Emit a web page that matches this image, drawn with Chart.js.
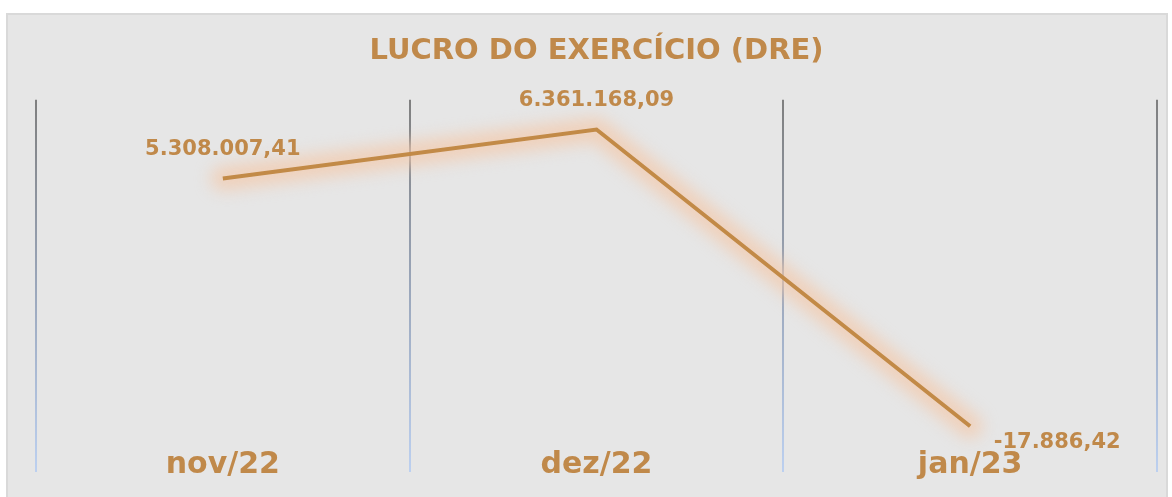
<!DOCTYPE html>
<html>
<head>
<meta charset="utf-8">
<script src="https://cdn.jsdelivr.net/npm/chart.js@4"></script>
<style>
  html, body { margin: 0; padding: 0; background: #ffffff; }
  #box {
    position: absolute; left: 6px; top: 13px; width: 1162px; height: 486px;
    background: #e6e6e6; border: 2px solid #d9d9d9; box-sizing: border-box;
  }
  #wrap { position: absolute; left: 0; top: 0; width: 1172px; height: 497px; }
</style>
</head>
<body>
<div id="box"></div>
<div id="wrap"><canvas id="lucroChart" width="1172" height="497"></canvas></div>
<script>
const meses = ['nov/22', 'dez/22', 'jan/23'];
const lucro = [5308007.41, 6361168.09, -17886.42];
const rotulos = ['5.308.007,41', '6.361.168,09', '-17.886,42'];

const corTexto = '#c0894a';
const fonte = '"DejaVu Sans", Verdana, sans-serif';

// rótulos dos pontos e dos meses
const rotulosPlugin = {
    id: 'rotulos',
    afterDatasetsDraw(chart) {
        const ctx = chart.ctx;
        const meta = chart.getDatasetMeta(0);
        const x = chart.scales.x;
        ctx.save();
        ctx.fillStyle = corTexto;
        ctx.textAlign = 'center';
        ctx.textBaseline = 'middle';
        ctx.font = 'bold 21px ' + fonte;
        meta.data.forEach(function(pt, i) {
            if (i === meta.data.length - 1) {
                ctx.fillText(rotulos[i], pt.x + 87, pt.y + 16);
            } else {
                ctx.fillText(rotulos[i], pt.x, pt.y - 29);
            }
        });
        ctx.font = 'bold 30px ' + fonte;
        meses.forEach(function(m, i) {
            ctx.fillText(m, x.getPixelForValue(i), chart.chartArea.bottom - 7);
        });
        ctx.restore();
    }
};

// brilho suave: a série 1 é a mesma linha, larga e desfocada
const brilhoPlugin = {
    id: 'brilho',
    beforeDatasetDraw(chart, args) {
        if (args.index !== 1) return;
        chart.ctx.save();
        chart.ctx.filter = 'blur(8px)';
    },
    afterDatasetDraw(chart, args) {
        if (args.index !== 1) return;
        chart.ctx.restore();
    }
};

const ctx = document.getElementById('lucroChart').getContext('2d');
new Chart(ctx, {
    type: 'line',
    data: {
        labels: meses,
        datasets: [{
            label: 'Lucro do exercício',
            data: lucro,
            borderColor: '#c28a47',
            borderWidth: 4,
            pointRadius: 0,
            tension: 0,
            fill: false,
            order: 0
        }, {
            label: 'brilho',
            data: lucro,
            borderColor: 'rgba(244, 200, 168, 0.7)',
            borderWidth: 24,
            borderCapStyle: 'round',
            borderJoinStyle: 'round',
            pointRadius: 0,
            tension: 0,
            fill: false,
            order: 1
        }]
    },
    options: {
        responsive: false,
        animation: false,
        layout: {
            padding: { left: 36, right: 15, top: 0, bottom: 25 }
        },
        plugins: {
            legend: { display: false },
            tooltip: { enabled: false },
            title: {
                display: true,
                text: 'LUCRO DO EXERCÍCIO (DRE)',
                color: corTexto,
                font: { family: fonte, size: 29, weight: 'bold' },
                padding: { top: 34, bottom: 31 }
            }
        },
        scales: {
            x: {
                offset: true,
                border: { display: false },
                ticks: { display: false },
                grid: {
                    offset: true,
                    drawTicks: false,
                    lineWidth: 2,
                    color: function(c) {
                        const area = c.chart.chartArea;
                        if (!area) return '#8c8c8c';
                        const g = c.chart.ctx.createLinearGradient(0, area.top, 0, area.bottom);
                        g.addColorStop(0, '#7f7f7f');
                        g.addColorStop(0.5, '#9aa6ba');
                        g.addColorStop(1, '#bcd0f0');
                        return g;
                    }
                }
            },
            y: {
                display: false,
                min: -1000000,
                max: 7000000
            }
        }
    },
    plugins: [brilhoPlugin, rotulosPlugin]
});
</script>
</body>
</html>
